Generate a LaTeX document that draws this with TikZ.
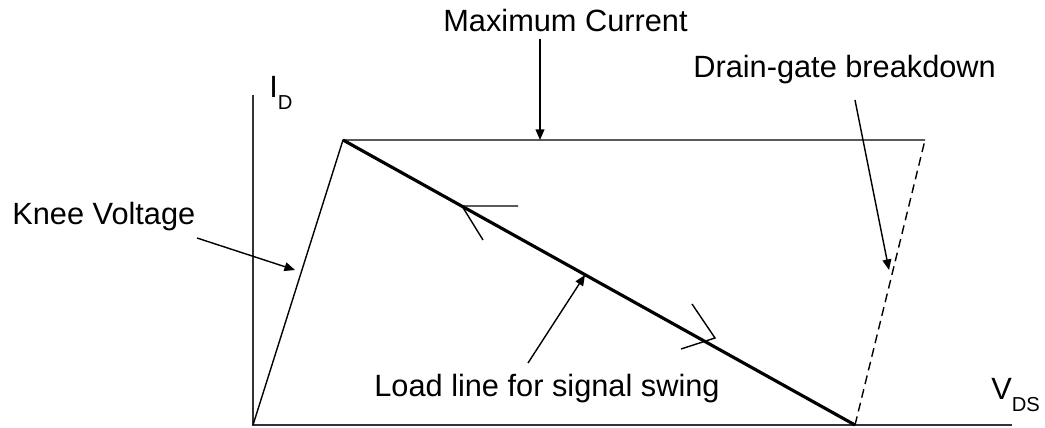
\documentclass[tikz,border=0pt]{standalone}
\usepackage{fontspec}
\setmainfont{Liberation Sans}
\usetikzlibrary{arrows.meta}
\newcommand{\lowsub}[1]{\raisebox{-6.6pt}{\fontsize{11.5}{12}\selectfont #1}}
\begin{document}
\begin{tikzpicture}[x=0.02cm,y=-0.02cm,
		lbl/.style={anchor=base west, inner sep=0pt, font=\fontsize{17.5}{20}\selectfont},
		ln/.style={line width=0.8pt},
		arr/.style={-{Triangle[length=6pt,width=5pt]}, line width=0.8pt}]
	\useasboundingbox (0,0) rectangle (1045,428);
	\coordinate (O) at (253,425);
	\coordinate (ytop) at (253,95);
	\coordinate (xend) at (1012,425);
	\coordinate (knee) at (343,140);
	\coordinate (imax) at (925,140);
	\coordinate (vbr) at (855,425);
	\draw[line width=1pt, black!80] (ytop) -- (O) -- (xend);
	\draw[ln] (O) -- (knee) -- (imax);
	\draw[ln, dashed, dash pattern=on 5pt off 3pt] (vbr) -- (imax);
	\draw[line width=1.8pt] (knee) -- (vbr);
	% swing marks on the load line
	\coordinate (up) at (462,206);
	\coordinate (dn) at (715,338);
	\draw[ln] (518,206) -- (up) -- (483,240);
	\draw[ln] (692,304) -- (dn) -- (681,349);
	\node[lbl] (id) at (269,98) {I\lowsub{D}};
	\node[lbl] (vds) at (991,400) {V\lowsub{DS}};
	\node[lbl] (maxc) at (443,32) {Maximum Current};
	\node[lbl] (dgb) at (693,78) {Drain-gate breakdown};
	\node[lbl] (kv) at (12,225) {Knee Voltage};
	\node[lbl] (ll) at (374,397) {Load line for signal swing};
	\coordinate (maxc-s) at (540,39);
	\coordinate (maxc-e) at (540,140);
	\coordinate (dgb-s) at (855,100);
	\coordinate (dgb-e) at (889,270);
	\coordinate (kv-s) at (197,238);
	\coordinate (kv-e) at (295,270);
	\coordinate (ll-s) at (528,363);
	\coordinate (ll-e) at (585,275);
	\draw[arr] (maxc-s) -- (maxc-e);
	\draw[arr] (dgb-s) -- (dgb-e);
	\draw[arr] (kv-s) -- (kv-e);
	\draw[arr] (ll-s) -- (ll-e);
\end{tikzpicture}
\end{document}
